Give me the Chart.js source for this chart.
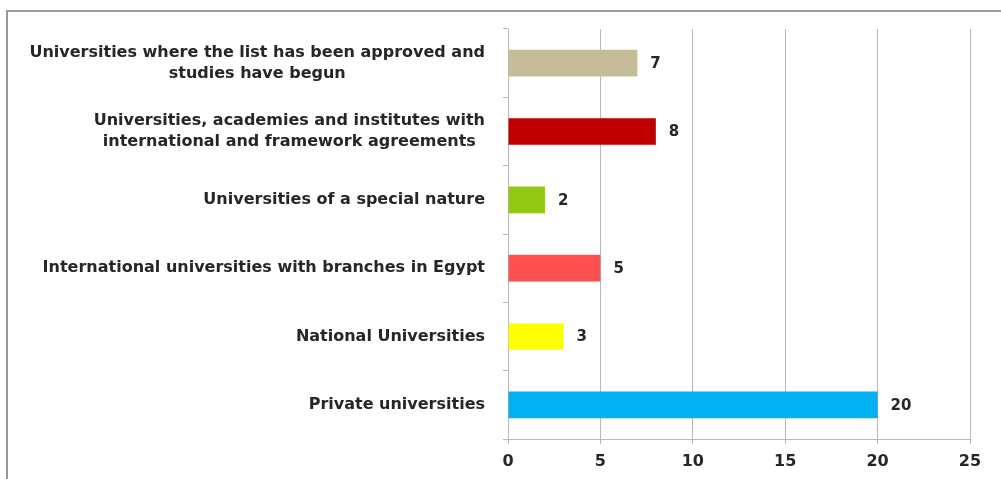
<!DOCTYPE html>
<html lang="en">
<head>
  <meta charset="UTF-8" />
  <title>Universities</title>
  <script src="https://cdn.jsdelivr.net/npm/chart.js"></script>
  <style>
    body { margin: 0; padding: 0; background: #fff; }
    #wrap { width: 1001px; height: 479px; position: relative; }
  </style>
</head>
<body>
  <div id="wrap"><canvas id="grafico"></canvas></div>

  <script>
    const categorias = [
      ['Universities where the list has been approved and', 'studies have begun'],
      ['Universities, academies and institutes with', 'international and framework agreements'],
      'Universities of a special nature',
      'International universities with branches in Egypt',
      'National Universities',
      'Private universities'
    ];
    const valores = [7, 8, 2, 5, 3, 20];
    const cores = ['#c4bd97', '#c00000', '#92c814', '#ff5050', '#ffff00', '#00b0f0'];
    const eixoX = { min: 0, max: 25, passo: 5 };

    const fonte = "'DejaVu Sans', sans-serif";

    // rótulos das categorias (linhas centradas como no Excel), valores e moldura
    const extras = {
      id: 'extras',
      afterDatasetsDraw(chart) {
        const ctx = chart.ctx;
        const meta = chart.getDatasetMeta(0);
        const yScale = chart.scales.y;
        ctx.save();
        ctx.font = 'bold 16px ' + fonte;
        ctx.fillStyle = '#262626';
        ctx.textBaseline = 'middle';

        const direita = 485;
        categorias.forEach((cat, i) => {
          const linhas = Array.isArray(cat) ? cat : [cat];
          const yc = yScale.getPixelForTick(i);
          const larg = Math.max(...linhas.map(l => ctx.measureText(l).width));
          const cx = direita - larg / 2;
          ctx.textAlign = 'center';
          linhas.forEach((l, k) => {
            ctx.fillText(l, cx, yc + (k - (linhas.length - 1) / 2) * 21);
          });
        });

        ctx.font = 'bold 15px ' + fonte;
        ctx.textAlign = 'left';
        meta.data.forEach((bar, i) => {
          ctx.fillText(valores[i], bar.x + 13, bar.y + 1);
        });

        ctx.strokeStyle = '#9a9a9a';
        ctx.lineWidth = 2;
        ctx.beginPath();
        ctx.moveTo(7, 479);
        ctx.lineTo(7, 11);
        ctx.lineTo(1001, 11);
        ctx.stroke();
        ctx.restore();
      }
    };

    new Chart(document.getElementById('grafico').getContext('2d'), {
      type: 'bar',
      data: {
        labels: categorias,
        datasets: [{
          data: valores,
          backgroundColor: cores,
          barPercentage: 0.39,
          categoryPercentage: 1
        }]
      },
      options: {
        indexAxis: 'y',
        responsive: true,
        maintainAspectRatio: false,
        animation: false,
        layout: { padding: { top: 29, right: 31, left: 0, bottom: 0 } },
        plugins: {
          legend: { display: false },
          tooltip: { enabled: false }
        },
        scales: {
          x: {
            min: eixoX.min,
            max: eixoX.max,
            ticks: {
              stepSize: eixoX.passo,
              color: '#262626',
              font: { family: fonte, size: 16, weight: 'bold' },
              padding: 8
            },
            grid: { color: '#b8b8b8', tickLength: 5 },
            border: { color: '#b8b8b8' },
            afterFit(scale) { scale.height = 40; }
          },
          y: {
            ticks: { display: false },
            grid: { drawOnChartArea: false, offset: true, color: '#b8b8b8', tickLength: 5 },
            border: { color: '#b8b8b8' },
            afterFit(scale) { scale.width = 508; }
          }
        }
      },
      plugins: [extras]
    });
  </script>
</body>
</html>
